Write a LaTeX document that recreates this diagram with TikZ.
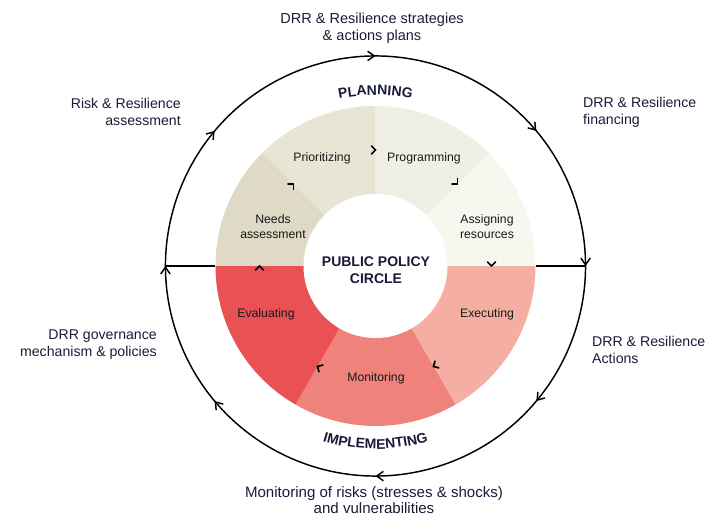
\documentclass[tikz,border=0pt]{standalone}
\usepackage{fontspec}
\setmainfont{Liberation Sans}
\usetikzlibrary{arrows.meta,decorations.markings,decorations.text}

\definecolor{navy}{HTML}{181C38}
\definecolor{needs}{HTML}{DEDAC5}
\definecolor{prio}{HTML}{E8E5D5}
\definecolor{prog}{HTML}{F0EFE6}
\definecolor{assign}{HTML}{F8F7EF}
\definecolor{evalc}{HTML}{E95155}
\definecolor{moni}{HTML}{EF827A}
\definecolor{exec}{HTML}{F4AFA2}

\begin{document}
\begin{tikzpicture}[x=0.75pt,y=0.75pt,>={Straight Barb[length=5pt,width=7pt]},
      l/.style={font=\fontsize{9.2}{11.25}\selectfont,text=black!90,align=center},
      o/.style={font=\fontsize{10.6}{12.75}\selectfont,text=navy},
      chev/.style={line width=1.3pt,line cap=round}]
    \useasboundingbox (-375.5,-251) rectangle (330.5,266);
    % ring of the seven steps
    \foreach \a/\b/\c in {135/180/needs,90/135/prio,45/90/prog,0/45/assign,
                          -60/0/exec,-120/-60/moni,-180/-120/evalc}
      \fill[\c] (0,0) -- (\a:160) arc[start angle=\a,end angle=\b,radius=160] -- cycle;
    \fill[white] (0,0) circle[radius=72];
    % small turn marks
    \foreach \t in {180,135,90,45,0,-60,-120}
      \draw[chev] (\t:116) ++(\t+45:5.5) -- (\t:116) -- ++(\t+135:5.5);
    % outer circle
    \draw[line width=1.1pt,postaction={decorate},decoration={markings,
        mark=at position 0.0556 with {\arrow{>}},
        mark=at position 0.1667 with {\arrow{>}},
        mark=at position 0.3056 with {\arrow{>}},
        mark=at position 0.4444 with {\arrow{>}},
        mark=at position 0.5556 with {\arrow{>}},
        mark=at position 0.6667 with {\arrow{>}},
        mark=at position 0.8056 with {\arrow{>}},
        mark=at position 0.9444 with {\arrow{>}}}]
      (20:210) arc[start angle=20,end angle=-340,radius=210];
    \coordinate (rl) at (180:160);
    \coordinate (ol) at (180:210);
    \coordinate (rr) at (0:160);
    \coordinate (or) at (0:210);
    \draw[line width=1.1pt] (rl) -- (ol);
    \draw[line width=1.1pt] (rr) -- (or);
    % curved titles
    \path[decorate,decoration={text along path,text align=center,
        text={|\fontsize{10.5}{12}\selectfont\bfseries\color{navy}|PLANNING}}]
      (125:171) arc[start angle=125,end angle=55,radius=171];
    \path[decorate,decoration={text along path,text align=center,
        text={|\fontsize{10.5}{12}\selectfont\bfseries\color{navy}|IMPLEMENTING}}]
      (-125:183) arc[start angle=-125,end angle=-55,radius=183];
    % step labels
    \node[l] (needsL) at (-102.5,39) {Needs\\assessment};
    \node[l] (prioL) at (-53.5,108) {Prioritizing};
    \node[l] (progL) at (48.5,108) {Programming};
    \node[l] (assignL) at (111.5,39) {Assigning\\resources};
    \node[l] (execL) at (111.5,-48) {Executing};
    \node[l] (moniL) at (0.5,-112) {Monitoring};
    \node[l] (evalL) at (-109.5,-48) {Evaluating};
    \node[align=center,text=navy,font=\fontsize{10.5}{12.75}\selectfont\bfseries]
      (circ) at (0.5,-4) {PUBLIC POLICY\\CIRCLE};
    % outer labels
    \node[o,align=center,font=\fontsize{10.9}{12.75}\selectfont] (strat) at (-3.5,238)
      {DRR \& Resilience strategies\\\& actions plans};
    \node[o,align=right,anchor=east] (risk) at (-190,154) {Risk \& Resilience\\assessment};
    \node[o,align=left,anchor=west] (fin) at (203,154) {DRR \& Resilience\\financing};
    \node[o,align=right,anchor=east] (gov) at (-214,-79) {DRR governance\\mechanism \& policies};
    \node[o,align=left,anchor=west] (act) at (212,-84) {DRR \& Resilience\\Actions};
    \node[o,align=center,font=\fontsize{11.3}{12.25}\selectfont] (mon) at (-1.5,-234)
      {Monitoring of risks (stresses \& shocks)\\and vulnerabilities};
\end{tikzpicture}
\end{document}
